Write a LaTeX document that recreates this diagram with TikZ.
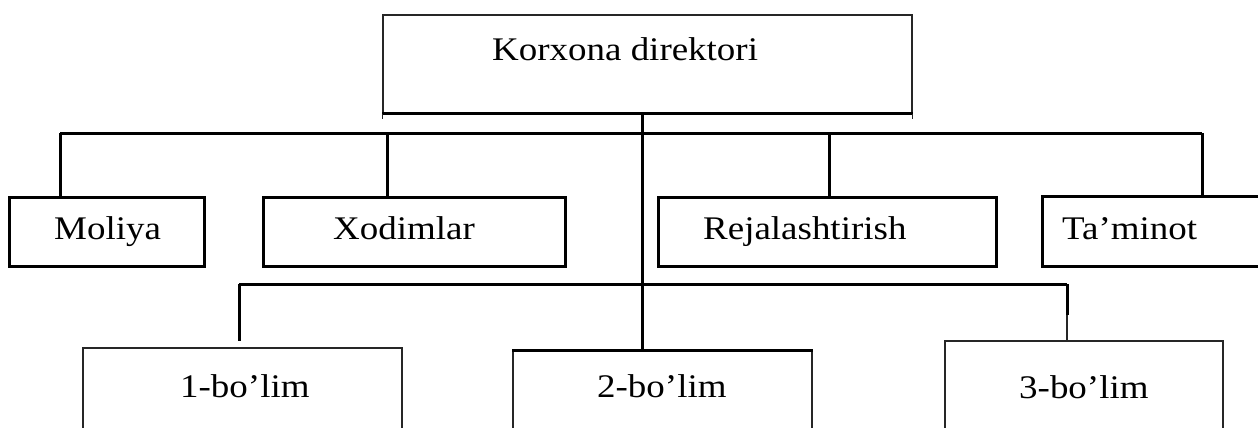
\documentclass[tikz,border=0pt]{standalone}
\usepackage{fontspec}
\setmainfont[FakeStretch=1.12]{Liberation Serif}
\begin{document}
\begin{tikzpicture}[x=1pt,y=-1pt,
  thk/.style={line width=3pt,black},
  thn/.style={line width=1.3pt,black!85},
  boxthick/.style={draw=black,line width=3pt,rectangle,inner sep=0pt},
  boxthin/.style={draw=black!85,line width=1.3pt,rectangle,inner sep=0pt},
  lbl/.style={anchor=base west,inner sep=0pt,font=\fontsize{33}{40}\selectfont}]
\useasboundingbox (0,0) rectangle (1258,428);
\fill[white] (0,0) rectangle (1258,428);
\clip (0,0) rectangle (1258,428);
% top box
\node[boxthin,minimum width=529pt,minimum height=98pt] (top) at (647.5,64) {};
\draw[thk] (top.south west) -- (top.south east);
\draw[thn] (top.south west) -- ++(0,5);
\draw[thn] (top.south east) -- ++(0,5);
\node[lbl] (ttop) at (492,60) {Korxona direktori};
% level 2
\node[boxthick,minimum width=195pt,minimum height=69pt] (moliya) at (106.5,231.5) {};
\node[boxthick,minimum width=302pt,minimum height=69pt] (xodim) at (414,231.5) {};
\node[boxthick,minimum width=338pt,minimum height=69pt] (rejal) at (827,231.5) {};
\node[boxthick,minimum width=248pt,minimum height=70pt] (tamin) at (1166,231) {};
\node[lbl] (tmoliya) at (54,239) {Moliya};
\node[lbl] (txodim) at (333,239) {Xodimlar};
\node[lbl] (trejal) at (703,239) {Rejalashtirish};
\node[lbl] (ttamin) at (1062,239) {Ta’minot};
% level 3
\node[boxthin,minimum width=319pt,minimum height=112pt] (b1) at (242.5,404) {};
\node[boxthin,minimum width=299pt,minimum height=109pt] (b2) at (662.5,405.5) {};
\node[boxthin,minimum width=278pt,minimum height=119pt] (b3) at (1084,400.5) {};
\draw[thk] (b2.north west) -- (b2.north east);
\node[lbl] (tb1) at (180,397) {1-bo’lim};
\node[lbl] (tb2) at (597,397) {2-bo’lim};
\node[lbl] (tb3) at (1019,398) {3-bo’lim};
% connectors
\coordinate (tr) at (642,113);
\coordinate (ub1) at (60,133);
\coordinate (ub2) at (387,133);
\coordinate (ub3) at (829,133);
\coordinate (ub4) at (1202,133);
\coordinate (lb1) at (239,284);
\coordinate (lb3) at (1067,284);
\coordinate (g1) at (239,341);
\coordinate (k3) at (1067,315);
\draw[thk] (tr) -- (tr |- b2.north);
\draw[thk] (ub1) -- (ub4);
\draw[thk] (ub1) -- (ub1 |- moliya.north);
\draw[thk] (ub2) -- (ub2 |- xodim.north);
\draw[thk] (ub3) -- (ub3 |- rejal.north);
\draw[thk] (ub4) -- (ub4 |- tamin.north);
\draw[thk] (lb1) -- (lb3);
\draw[thk] (lb1) -- (g1);
\draw[thk] (lb3) -- (k3);
\draw[thn] (k3) -- (k3 |- b3.north);
\end{tikzpicture}
\end{document}
